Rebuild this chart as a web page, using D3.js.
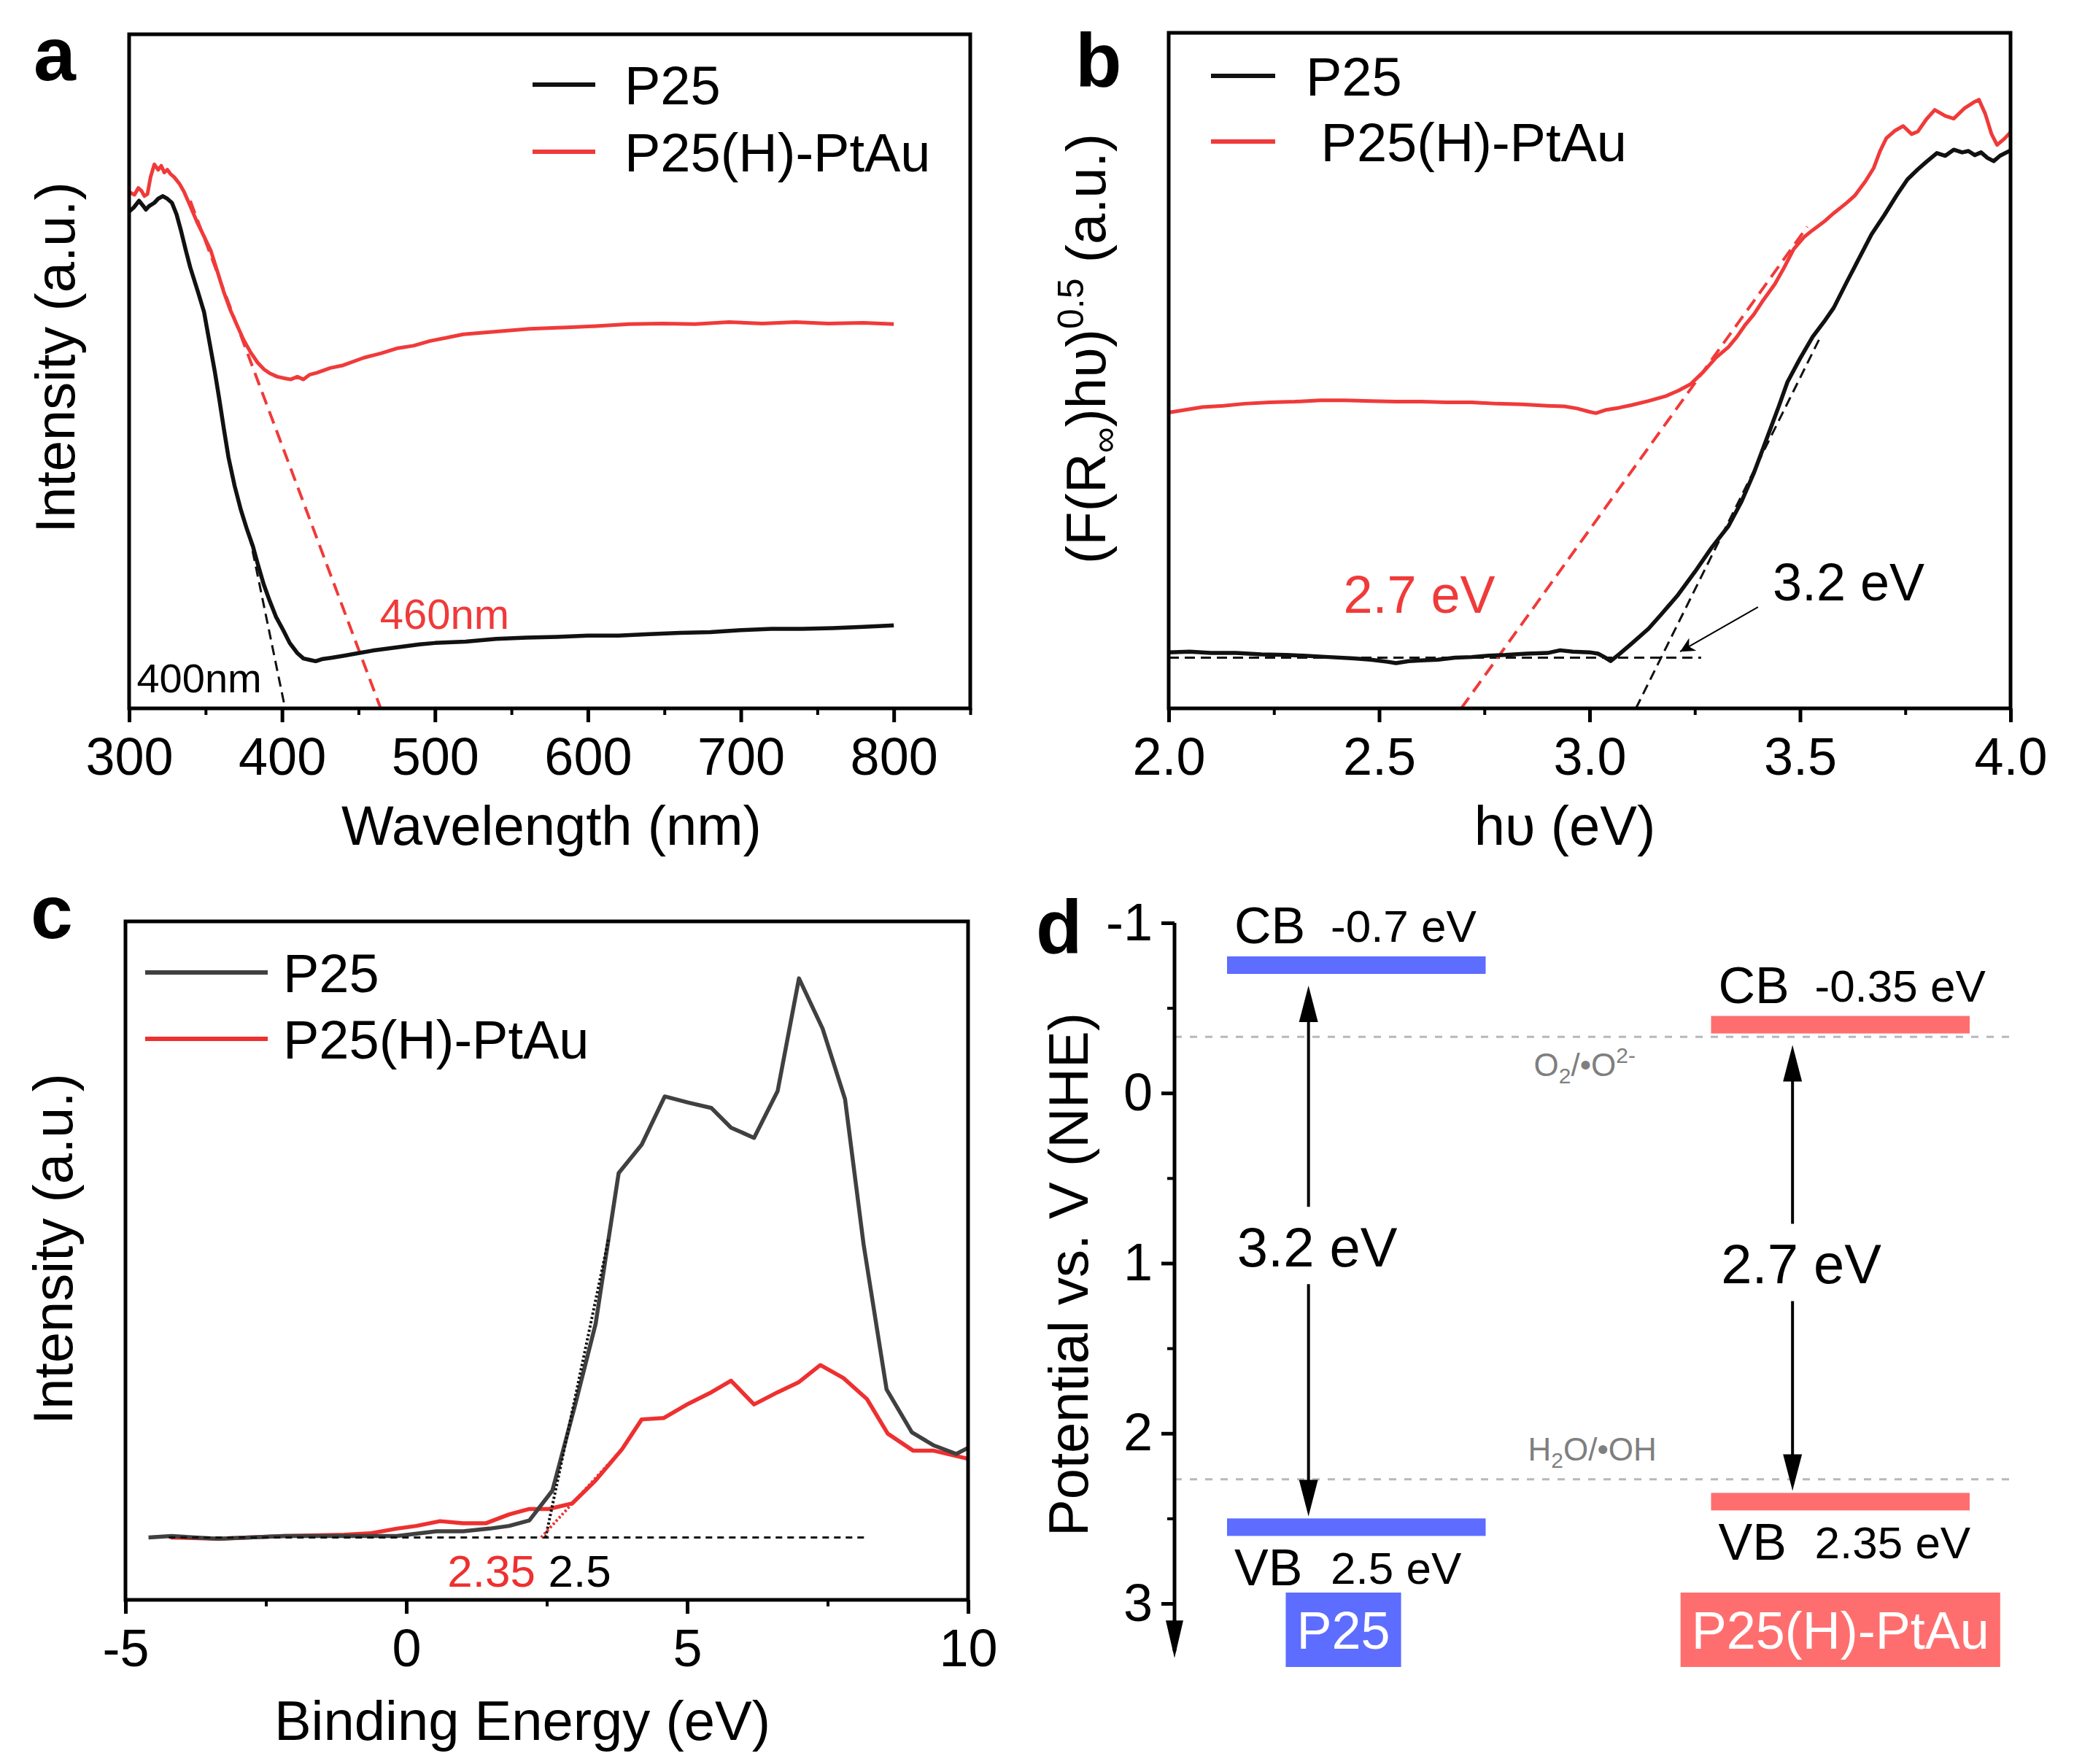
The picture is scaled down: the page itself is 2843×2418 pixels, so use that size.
<!DOCTYPE html>
<html>
<head>
<meta charset="utf-8">
<script src="https://cdn.jsdelivr.net/npm/d3@7"></script>
<style>
  body { margin: 0; background: #fff; }
  svg { display: block; font-family: "Liberation Sans", Arial, sans-serif; }
</style>
</head>
<body>
<svg id="fig" width="2843" height="2418"></svg>
<script>
// 1: DATA (y in arbitrary units 0-100)

// panel a: UV-vis, wavelength (nm) vs intensity
const aP25 = [[300,73.7],[303,74.3],[306.5,75.3],[309,74.6],[311,74.0],[313,74.5],[316.5,75.0],[319,75.6],[322,76.0],[325,75.6],[328,75.0],[331,73.3],[334,70.8],[337,68.0],[340,65.4],[345,61.8],[349,58.8],[352,55.0],[356,50.0],[359,45.8],[362,41.4],[365,37.2],[369,33.0],[373,29.5],[377,26.6],[381,24.0],[384,21.5],[388,18.4],[392,15.9],[396,13.6],[401,11.5],[405,9.7],[410,8.2],[414,7.4],[418,7.2],[422,7.0],[426,7.3],[432,7.5],[440,7.8],[450,8.2],[460,8.6],[470,8.9],[480,9.2],[490,9.5],[500,9.7],[520,9.9],[540,10.3],[560,10.5],[580,10.6],[600,10.8],[620,10.8],[640,11.0],[660,11.2],[680,11.3],[700,11.6],[720,11.8],[740,11.8],[760,11.9],[780,12.1],[800,12.3]];
const aPtAu = [[300,76.6],[303.5,76.2],[306,77.2],[308,76.8],[310,76.0],[312,76.3],[314,78.8],[316.5,80.7],[319,79.9],[321,80.5],[323,79.5],[325,79.9],[327,79.3],[329.5,78.8],[333,77.8],[336,76.6],[340,74.5],[344.7,72.0],[349,70.0],[353.4,67.9],[358,64.6],[362,61.7],[366,59.2],[370.8,56.7],[375,54.6],[379.5,52.8],[384,51.3],[388.2,50.3],[392,49.7],[396.9,49.2],[401,49.0],[405.6,48.8],[410,49.2],[414,48.8],[418,49.5],[422.9,49.8],[431.6,50.5],[440,50.9],[453.3,52.0],[465,52.7],[475,53.4],[486,53.8],[496.8,54.5],[508,55.0],[518.5,55.5],[540,55.9],[561.9,56.3],[584,56.5],[605.4,56.7],[627,57.0],[648.8,57.1],[670,57.0],[692.3,57.3],[714,57.1],[735.7,57.3],[757,57.1],[780,57.2],[800,57.0]];
const aFitP25 = [[378.6,25.7],[402,0]];
const aFitPtAu = [[340,75.3],[464.5,0]];
const aTicks = [300, 400, 500, 600, 700, 800];
const aMinor = [350, 450, 550, 650, 750, 850];

// panel b: Tauc plot, photon energy (eV)
const bP25 = [[2.0,8.3],[2.05,8.4],[2.1,8.2],[2.16,8.2],[2.22,8.0],[2.28,7.9],[2.32,7.8],[2.38,7.6],[2.44,7.4],[2.48,7.2],[2.52,6.9],[2.54,6.7],[2.57,7.0],[2.6,7.1],[2.64,7.2],[2.68,7.5],[2.72,7.6],[2.76,7.8],[2.8,7.9],[2.85,8.1],[2.9,8.2],[2.93,8.6],[2.96,8.4],[3.0,8.3],[3.02,8.1],[3.035,7.6],[3.05,7.0],[3.07,8.0],[3.1,9.6],[3.14,11.8],[3.17,13.9],[3.21,16.8],[3.25,20.2],[3.29,23.8],[3.33,27.0],[3.36,30.5],[3.39,34.8],[3.42,39.8],[3.45,44.8],[3.47,48.3],[3.5,51.8],[3.53,55.0],[3.56,57.5],[3.58,59.3],[3.61,63.0],[3.64,66.6],[3.67,70.2],[3.7,73.0],[3.73,76.0],[3.755,78.3],[3.78,79.8],[3.8,80.9],[3.825,82.2],[3.845,81.8],[3.865,82.7],[3.885,82.3],[3.9,82.5],[3.915,81.9],[3.93,82.3],[3.945,81.5],[3.96,81.0],[3.975,81.8],[4.0,82.6]];
const bPtAu = [[2.0,43.8],[2.04,44.2],[2.08,44.6],[2.13,44.8],[2.18,45.1],[2.24,45.3],[2.3,45.4],[2.36,45.6],[2.42,45.6],[2.48,45.5],[2.54,45.4],[2.6,45.4],[2.66,45.3],[2.72,45.3],[2.78,45.1],[2.84,45.0],[2.9,44.8],[2.94,44.7],[2.97,44.4],[3.0,43.9],[3.015,43.7],[3.04,44.2],[3.07,44.5],[3.1,44.9],[3.14,45.5],[3.18,46.2],[3.21,47.0],[3.24,48.0],[3.27,49.8],[3.3,51.9],[3.33,53.5],[3.35,55.0],[3.37,56.8],[3.39,58.3],[3.41,60.2],[3.44,62.8],[3.46,65.0],[3.485,68.0],[3.51,69.8],[3.53,70.8],[3.56,72.2],[3.58,73.3],[3.61,74.8],[3.63,75.9],[3.655,78.0],[3.675,80.0],[3.69,82.5],[3.705,84.4],[3.725,85.5],[3.745,86.2],[3.765,85.0],[3.78,85.4],[3.8,87.2],[3.82,88.6],[3.845,87.7],[3.865,87.3],[3.89,88.8],[3.915,89.8],[3.925,90.1],[3.94,88.0],[3.955,85.0],[3.968,83.4],[3.985,84.3],[4.0,85.3]];
const bBase = [[2.0,7.5],[3.265,7.5]];
const bFitP25 = [[3.11,0],[3.55,55.2]];
const bFitPtAu = [[2.695,0],[3.517,71.3]];
const bPointer = [[3.40,15.0],[3.215,8.4]];
const bTicks = [2.0, 2.5, 3.0, 3.5, 4.0];
const bMinor = [2.25, 2.75, 3.25, 3.75];

// panel c: VB-XPS, binding energy (eV)
const cP25 = [[-4.59,9.2],[-4.18,9.4],[-3.35,9.0],[-2.17,9.4],[-1.11,9.4],[-0.17,9.4],[0.54,10.1],[1.01,10.1],[1.48,10.5],[1.83,10.9],[2.19,11.7],[2.6,16.1],[3.01,28.9],[3.37,40.7],[3.6,53.2],[3.78,62.9],[4.19,67.1],[4.6,74.2],[5.02,73.3],[5.43,72.5],[5.78,69.6],[6.19,68.1],[6.61,75.0],[6.99,91.6],[7.41,84.2],[7.81,73.8],[8.14,52.4],[8.55,31.0],[9.0,24.7],[9.38,22.8],[9.79,21.5],[10.0,22.4]];
const cPtAu = [[-4.2,9.2],[-3.35,9.0],[-2.17,9.4],[-1.11,9.6],[-0.64,9.8],[-0.17,10.5],[0.18,10.9],[0.6,11.6],[1.01,11.3],[1.42,11.3],[1.83,12.6],[2.19,13.4],[2.54,13.4],[2.95,14.2],[3.37,17.6],[3.84,22.2],[4.19,26.6],[4.58,26.8],[5.02,28.9],[5.43,30.6],[5.78,32.3],[6.19,28.8],[6.61,30.6],[6.99,32.1],[7.37,34.6],[7.78,32.7],[8.2,29.6],[8.57,24.5],[9.02,22.0],[9.38,22.0],[10.0,20.8]];
const cBase = [[-4.23,9.2],[8.2,9.2]];
const cFitP25 = [[2.48,9.2],[3.6,53.2]];
const cFitPtAu = [[2.4,9.2],[3.84,22.2]];
const cTicks = [-5, 0, 5, 10];
const cMinor = [-2.5, 2.5, 7.5];

// panel d: band positions (V vs NHE)
const dSamples = ["P25", "P25(H)-PtAu"];
const dCB = [-0.7, -0.35];
const dVB = [2.5, 2.35];
const dGap = ["3.2 eV", "2.7 eV"];
const dRedox = [-0.33, 2.27];
const dTicks = [-1, 0, 1, 2, 3];
const dMinor = [-0.5, 0.5, 1.5, 2.5];

const seriesNames = ["P25", "P25(H)-PtAu"];

// 2: HELPERS
const svg = d3.select("#fig");
const RED = "#f03a3a";
const BLK = "#111";

function boxAxes(g, x, y, majors, minors, fmt) {
  const [x0, x1] = x.range();
  const [yb, yt] = y.range();
  const mn = g.append("g").attr("transform", `translate(0,${yb})`)
    .call(d3.axisBottom(x).tickValues(minors).tickSize(9).tickFormat(""));
  mn.select(".domain").remove();
  mn.selectAll("line").attr("stroke-width", 4);
  const mj = g.append("g").attr("transform", `translate(0,${yb})`)
    .call(d3.axisBottom(x).tickValues(majors).tickSize(19).tickPadding(21).tickFormat(fmt));
  mj.select(".domain").remove();
  mj.attr("font-size", 72).attr("font-family", null);
  mj.selectAll("line").attr("stroke-width", 5);
  g.append("rect")
    .attr("x", x0).attr("y", yt)
    .attr("width", x1 - x0).attr("height", yb - yt)
    .attr("fill", "none").attr("stroke", "#000").attr("stroke-width", 5);
}

function curve(g, x, y, data, color, width, dash) {
  g.append("path")
    .datum(data)
    .attr("fill", "none")
    .attr("stroke", color)
    .attr("stroke-width", width)
    .attr("stroke-linejoin", "round")
    .attr("stroke-dasharray", dash || null)
    .attr("d", d3.line().x(d => x(d[0])).y(d => y(d[1])));
}

function legend(g, x0, x1, xt, rows, colors, size) {
  seriesNames.forEach((name, i) => {
    g.append("line").attr("x1", x0).attr("x2", x1)
      .attr("y1", rows[i]).attr("y2", rows[i])
      .attr("stroke", colors[i]).attr("stroke-width", 6);
    g.append("text").attr("x", xt[i]).attr("y", rows[i]).attr("dy", "0.36em")
      .attr("font-size", size).text(name);
  });
}

function yTitle(g, cx, cy, txt) {
  return g.append("text")
    .attr("transform", `translate(${cx},${cy}) rotate(-90)`)
    .attr("text-anchor", "middle").attr("dy", "0.36em")
    .attr("font-size", 76).text(txt);
}

function panelLetter(txt, x, y) {
  svg.append("text").attr("x", x).attr("y", y)
    .attr("font-size", 104).attr("font-weight", "bold").text(txt);
}

// ==========================================
//         PANEL A
// ==========================================
const gA = svg.append("g");
const xA = d3.scaleLinear().domain([300, 850]).range([177, 1330]);
const yA = d3.scaleLinear().domain([0, 100]).range([971, 47]);

curve(gA, xA, yA, aFitP25, BLK, 3, "14,8");
curve(gA, xA, yA, aFitPtAu, RED, 4, "18,10");
curve(gA, xA, yA, aPtAu, RED, 5);
curve(gA, xA, yA, aP25, BLK, 5.5);
boxAxes(gA, xA, yA, aTicks, aMinor, d3.format("d"));

gA.append("text").attr("x", xA(305)).attr("y", yA(2.4))
  .attr("font-size", 56).text("400nm");
gA.append("text").attr("x", xA(464)).attr("y", yA(11.8))
  .attr("font-size", 58).attr("fill", RED).text("460nm");

legend(gA, 730, 816, [856, 856], [116, 208], [BLK, RED], 74);
yTitle(gA, 75, 490, "Intensity (a.u.)");
gA.append("text").attr("x", 756).attr("y", 1158)
  .attr("text-anchor", "middle").attr("font-size", 76).text("Wavelength (nm)");
panelLetter("a", 46, 110);

// ==========================================
//         PANEL B
// ==========================================
const gB = svg.append("g");
const xB = d3.scaleLinear().domain([2, 4]).range([1602, 2756]);
const yB = d3.scaleLinear().domain([0, 100]).range([971, 45]);

svg.append("defs").append("marker")
  .attr("id", "ptr").attr("viewBox", "0 0 10 10")
  .attr("refX", 10).attr("refY", 5)
  .attr("markerWidth", 26).attr("markerHeight", 20)
  .attr("markerUnits", "userSpaceOnUse").attr("orient", "auto")
  .append("path").attr("d", "M0,0 L10,5 L0,10 L3,5 Z").attr("fill", "#000");

curve(gB, xB, yB, bBase, BLK, 3, "14,8");
curve(gB, xB, yB, bFitP25, BLK, 3, "14,8");
curve(gB, xB, yB, bFitPtAu, RED, 4, "18,10");
curve(gB, xB, yB, bPtAu, RED, 5);
curve(gB, xB, yB, bP25, BLK, 5.5);
gB.append("path").datum(bPointer)
  .attr("fill", "none").attr("stroke", "#000").attr("stroke-width", 2)
  .attr("marker-end", "url(#ptr)")
  .attr("d", d3.line().x(d => xB(d[0])).y(d => yB(d[1])));
boxAxes(gB, xB, yB, bTicks, bMinor, d3.format(".1f"));

gB.append("text").attr("x", xB(2.415)).attr("y", yB(14.2))
  .attr("font-size", 72).attr("fill", RED).text("2.7 eV");
gB.append("text").attr("x", xB(3.435)).attr("y", yB(16.0))
  .attr("font-size", 72).text("3.2 eV");

legend(gB, 1660, 1748, [1790, 1790], [104, 194], [BLK, RED], 74);
gB.selectAll("text").filter(function () { return this.textContent === "P25(H)-PtAu"; })
  .attr("xml:space", "preserve").text(" P25(H)-PtAu");

const bLab = gB.append("text")
  .attr("transform", `translate(1488,478) rotate(-90)`)
  .attr("text-anchor", "middle").attr("dy", "0.36em")
  .attr("font-size", 76);
bLab.append("tspan").text("(F(R");
bLab.append("tspan").attr("font-size", 50).attr("dy", 16).text("∞");
bLab.append("tspan").attr("dy", -16).text(")hυ)");
bLab.append("tspan").attr("font-size", 50).attr("dy", -30).text("0.5");
bLab.append("tspan").attr("dy", 30).attr("xml:space", "preserve").text(" (a.u.)");

gB.append("text").attr("x", 2145).attr("y", 1158)
  .attr("text-anchor", "middle").attr("font-size", 76).text("hυ (eV)");
panelLetter("b", 1474, 118);

// ==========================================
//         PANEL C
// ==========================================
const gC = svg.append("g");
const xC = d3.scaleLinear().domain([-5, 10]).range([172, 1327]);
const yC = d3.scaleLinear().domain([0, 100]).range([2193, 1263]);

curve(gC, xC, yC, cPtAu, "#ee3030", 5.5);
curve(gC, xC, yC, cP25, "#404040", 5.5);
curve(gC, xC, yC, cBase, BLK, 3, "9,7");
curve(gC, xC, yC, cFitP25, BLK, 4, "3,3");
curve(gC, xC, yC, cFitPtAu, "#ee3030", 4, "3,3");
boxAxes(gC, xC, yC, cTicks, cMinor, d => String(d));

gC.append("text").attr("x", xC(2.35) - 4).attr("y", 2175)
  .attr("text-anchor", "end").attr("font-size", 62).attr("fill", "#ee3030").text("2.35");
gC.append("text").attr("x", xC(2.5) + 2).attr("y", 2175)
  .attr("font-size", 62).text("2.5");

legend(gC, 199, 367, [388, 388], [1333, 1424], ["#404040", "#ee3030"], 74);
yTitle(gC, 72, 1712, "Intensity (a.u.)");
gC.append("text").attr("x", 716).attr("y", 2385)
  .attr("text-anchor", "middle").attr("font-size", 76).text("Binding Energy (eV)");
panelLetter("c", 42, 1286);

// ==========================================
//         PANEL D
// ==========================================
const gD = svg.append("g");
const yD = d3.scaleLinear().domain([-1, 3]).range([1265, 2198]);
const xD = d3.scaleBand().domain(dSamples).range([1682, 2700]).paddingInner(0.4657);
const axX = 1610;
const dColors = ["#5d6dff", "#ff6e6e"];

// redox levels
dRedox.forEach(v => {
  gD.append("line").attr("x1", axX).attr("x2", 2756)
    .attr("y1", yD(v)).attr("y2", yD(v))
    .attr("stroke", "#b8b8b8").attr("stroke-width", 3).attr("stroke-dasharray", "10,11");
});
const o2 = gD.append("text").attr("x", xD(dSamples[0]) + xD.bandwidth() + 66)
  .attr("y", yD(dRedox[0]) + 54).attr("font-size", 44).attr("fill", "#7f7f7f");
o2.append("tspan").text("O");
o2.append("tspan").attr("font-size", 30).attr("dy", 10).text("2");
o2.append("tspan").attr("dy", -10).text("/•O");
o2.append("tspan").attr("font-size", 30).attr("dy", -18).text("2-");
const oh = gD.append("text").attr("x", xD(dSamples[0]) + xD.bandwidth() + 58)
  .attr("y", yD(dRedox[1]) - 26).attr("font-size", 44).attr("fill", "#7f7f7f");
oh.append("tspan").text("H");
oh.append("tspan").attr("font-size", 30).attr("dy", 10).text("2");
oh.append("tspan").attr("dy", -10).text("O/•OH");

// axis with arrow
gD.append("line").attr("x1", axX).attr("x2", axX)
  .attr("y1", yD(-1)).attr("y2", yD(3.28))
  .attr("stroke", "#000").attr("stroke-width", 5);
gD.append("path")
  .attr("d", `M${axX - 12},${yD(3.1)} L${axX + 12},${yD(3.1)} L${axX},${yD(3.32)} Z`)
  .attr("fill", "#000");
const dMn = gD.append("g").attr("transform", `translate(${axX},0)`)
  .call(d3.axisLeft(yD).tickValues(dMinor).tickSize(10).tickFormat(""));
dMn.select(".domain").remove();
dMn.selectAll("line").attr("stroke-width", 4);
const dMj = gD.append("g").attr("transform", `translate(${axX},0)`)
  .call(d3.axisLeft(yD).tickValues(dTicks).tickSize(18).tickPadding(12).tickFormat(d => String(d)));
dMj.select(".domain").remove();
dMj.attr("font-size", 72).attr("font-family", null);
dMj.selectAll("line").attr("stroke-width", 5);

const barH = 24;
dSamples.forEach((s, i) => {
  const x0 = xD(s), bw = xD.bandwidth();
  gD.append("rect").attr("x", x0).attr("y", yD(dCB[i]) - barH)
    .attr("width", bw).attr("height", barH).attr("fill", dColors[i]);
  gD.append("rect").attr("x", x0).attr("y", yD(dVB[i]))
    .attr("width", bw).attr("height", barH).attr("fill", dColors[i]);

  gD.append("text").attr("x", x0 + 10).attr("y", yD(dCB[i]) - barH - 18)
    .attr("font-size", 70).text("CB");
  gD.append("text").attr("x", x0 + 142).attr("y", yD(dCB[i]) - barH - 20)
    .attr("font-size", 62).text(`${dCB[i]} eV`);
  gD.append("text").attr("x", x0 + 10).attr("y", yD(dVB[i]) + barH + 68)
    .attr("font-size", 70).text("VB");
  gD.append("text").attr("x", x0 + 142).attr("y", yD(dVB[i]) + barH + 66)
    .attr("font-size", 62).text(`${dVB[i]} eV`);

  // gap arrow broken by the label
  const ax = x0 + bw * 0.315;
  const mid = (dCB[i] + dVB[i]) / 2;
  const top = yD(dCB[i]) + 16, bot = yD(dVB[i]) - 3, ym = yD(mid);
  gD.append("line").attr("x1", ax).attr("x2", ax).attr("y1", top + 48).attr("y2", ym - 54)
    .attr("stroke", "#000").attr("stroke-width", 4);
  gD.append("line").attr("x1", ax).attr("x2", ax).attr("y1", ym + 52).attr("y2", bot - 48)
    .attr("stroke", "#000").attr("stroke-width", 4);
  gD.append("path").attr("d", `M${ax - 13},${top + 50} L${ax + 13},${top + 50} L${ax},${top} Z`);
  gD.append("path").attr("d", `M${ax - 13},${bot - 50} L${ax + 13},${bot - 50} L${ax},${bot} Z`);
  gD.append("text").attr("x", ax + 12).attr("y", ym).attr("dy", "0.36em")
    .attr("text-anchor", "middle").attr("font-size", 76).text(dGap[i]);

  // sample tag
  const tag = gD.append("g");
  const t = tag.append("text").attr("x", i === 0 ? x0 + bw * 0.45 : x0 + bw * 0.5)
    .attr("y", yD(3) + 62).attr("text-anchor", "middle")
    .attr("font-size", 72).attr("fill", "#fff").text(s);
  const w = t.node().getComputedTextLength();
  tag.insert("rect", "text")
    .attr("x", +t.attr("x") - w / 2 - 15).attr("y", yD(3) - 15)
    .attr("width", w + 30).attr("height", 102).attr("fill", dColors[i]);
});

yTitle(gD, 1464, 1747, "Potential vs. V (NHE)");
panelLetter("d", 1420, 1306);
</script>
</body>
</html>
